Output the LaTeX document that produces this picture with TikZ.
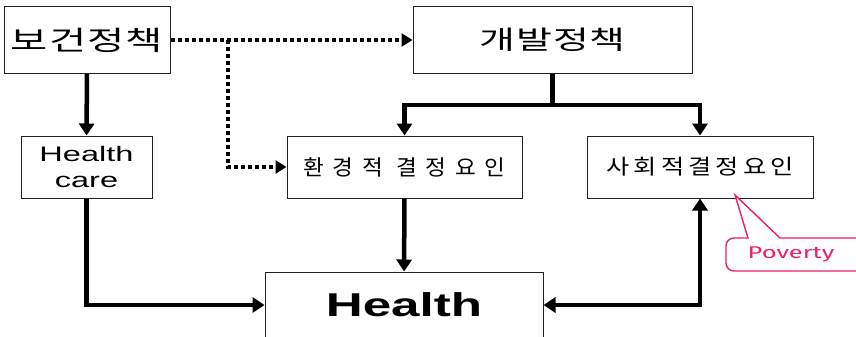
\documentclass[tikz,border=0pt]{standalone}
\usepackage{fontspec}
\setmainfont{Liberation Sans}
\newfontfamily\widesans[FakeStretch=1.55]{Liberation Sans}
\newfontfamily\krbig[FakeStretch=1.5,LetterSpace=4]{Noto Sans CJK KR}
\newfontfamily\krenv[FakeStretch=1.05,LetterSpace=40]{Noto Sans CJK KR}
\newfontfamily\krsoc[FakeStretch=1.2,LetterSpace=20]{Noto Sans CJK KR}
\newfontfamily\povfont[FakeStretch=1.5]{Fira Sans}
\definecolor{povpink}{HTML}{EE1E6E}
\definecolor{boxline}{HTML}{222222}
\usetikzlibrary{arrows.meta}

\begin{document}
\begin{tikzpicture}[x=1pt,y=-1pt,
    box/.style={draw=boxline,line width=1pt,fill=white,align=center,inner sep=0pt},
    arr/.style={-{Triangle[length=12pt,width=15pt]},line width=4.5pt},
    dblarr/.style={{Triangle[length=12pt,width=15pt]}-{Triangle[length=12pt,width=15pt]},line width=4.5pt},
    dotarr/.style={-{Triangle[length=11pt,width=13pt]},line width=4pt,dash pattern=on 4pt off 3pt}]
    \useasboundingbox (0,0) rectangle (856,337);
    % boxes
    \node[box,minimum width=166pt,minimum height=67pt,font=\krbig\fontsize{27}{30}\selectfont] (bogeon) at (87,40) {보건정책};
    \node[box,minimum width=279pt,minimum height=67pt,font=\krbig\fontsize{26}{29}\selectfont] (gaebal) at (552.5,40) {개발정책};
    \node[box,minimum width=131pt,minimum height=62pt,font=\widesans\fontsize{21}{26}\selectfont] (hcare) at (86.5,167) {Health\\care};
    \node[box,minimum width=235pt,minimum height=62pt,font=\krenv\fontsize{21.5}{24}\selectfont] (env) at (404.5,167) {환경적 결정요인};
    \node[box,minimum width=226pt,minimum height=62pt,font=\krsoc\fontsize{21}{23}\selectfont] (soc) at (700,167) {사회적결정요인};
    \node[box,minimum width=278pt,minimum height=66pt,font=\widesans\bfseries\fontsize{33}{36}\selectfont] (health) at (404,305) {Health};
    % connectors
    \coordinate (split) at (228,40);
    \coordinate (fork) at (552.5,105);
    \draw[dotarr] (bogeon) -- (gaebal);
    \draw[dotarr] (split) |- (env);
    \draw[arr] (bogeon) -- (hcare);
    \draw[line width=4.5pt] (gaebal) -- (fork);
    \draw[arr] (fork) -| (env);
    \draw[arr] (fork) -| (soc);
    \draw[arr] (hcare) |- (health);
    \draw[arr] (env) -- (health);
    \draw[dblarr] (health) -| (soc);
    % poverty callout
    \draw[povpink,line width=1.4pt,fill=white] (780,238) -- (735,195) -- (748,238)
      [rounded corners=8pt] -- (726,238) -- (726,271) -- (866,271) -- (866,238) [sharp corners] -- cycle;
    \node[text=povpink,font=\povfont\fontsize{17}{20}\selectfont] (poverty) at (791,254) {Poverty};
  \end{tikzpicture}
\end{document}
